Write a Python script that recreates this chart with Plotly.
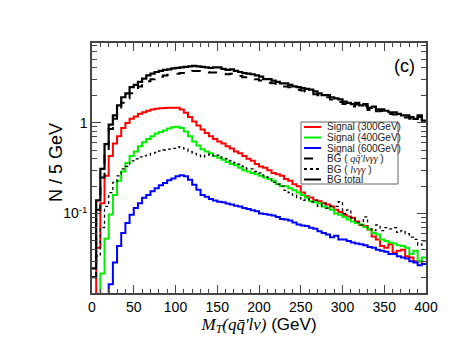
import numpy as np
import plotly.graph_objects as go

# bin edges, 5 GeV bins from 0 to 400
edges = np.arange(0, 405, 5)

sig300 = [0.001, 0.042, 0.13, 0.26, 0.43, 0.59, 0.71, 0.87, 0.99, 1.1,
          1.17, 1.25, 1.3, 1.35, 1.39, 1.42, 1.44, 1.45, 1.46, 1.46,
          1.46, 1.39, 1.28, 1.15, 1.03, 0.93, 0.84, 0.77, 0.71, 0.66,
          0.62, 0.59, 0.55, 0.52, 0.48, 0.46, 0.43, 0.40, 0.38, 0.35,
          0.33, 0.32, 0.30, 0.28, 0.27, 0.26, 0.24, 0.23, 0.21, 0.20,
          0.17, 0.155, 0.15, 0.14, 0.137, 0.13, 0.126, 0.12, 0.11, 0.104,
          0.097, 0.093, 0.09, 0.082, 0.075, 0.073, 0.067, 0.056, 0.052, 0.044,
          0.042, 0.046, 0.037, 0.039, 0.04, 0.034, 0.033, 0.03, 0.03, 0.028]

sig400 = [0.001, 0.001, 0.022, 0.053, 0.098, 0.16, 0.23, 0.29, 0.36, 0.43,
          0.48, 0.55, 0.61, 0.66, 0.71, 0.76, 0.79, 0.82, 0.86, 0.89,
          0.90, 0.87, 0.80, 0.71, 0.62, 0.56, 0.51, 0.48, 0.46, 0.43,
          0.41, 0.39, 0.37, 0.35, 0.34, 0.32, 0.30, 0.29, 0.28, 0.27,
          0.26, 0.25, 0.24, 0.23, 0.21, 0.20, 0.20, 0.19, 0.18, 0.17,
          0.16, 0.15, 0.137, 0.133, 0.13, 0.12, 0.115, 0.11, 0.10, 0.097,
          0.092, 0.086, 0.082, 0.079, 0.076, 0.071, 0.067, 0.061, 0.059, 0.052,
          0.05, 0.048, 0.047, 0.045, 0.044, 0.042, 0.036, 0.039, 0.03, 0.033]

sig600 = [0.001, 0.001, 0.001, 0.001, 0.0167, 0.029, 0.044, 0.061, 0.079, 0.097,
          0.115, 0.13, 0.149, 0.16, 0.176, 0.19, 0.205, 0.217, 0.232, 0.243,
          0.257, 0.264, 0.257, 0.236, 0.208, 0.183, 0.16, 0.153, 0.145, 0.139,
          0.135, 0.133, 0.129, 0.126, 0.122, 0.12, 0.115, 0.112, 0.109, 0.106,
          0.10, 0.099, 0.097, 0.095, 0.092, 0.087, 0.086, 0.084, 0.08, 0.076,
          0.074, 0.073, 0.07, 0.068, 0.064, 0.061, 0.059, 0.055, 0.057, 0.052,
          0.052, 0.05, 0.048, 0.047, 0.046, 0.045, 0.043, 0.042, 0.040, 0.039,
          0.038, 0.036, 0.036, 0.034, 0.033, 0.032, 0.030, 0.029, 0.027, 0.028]

bg_qq = [0.02, 0.11, 0.25, 0.5, 0.85, 1.1, 1.35, 1.65, 1.85, 2.1,
         2.3, 2.5, 2.7, 2.85, 3.0, 3.1, 3.2, 3.3, 3.35, 3.4,
         3.45, 3.5, 3.6, 3.65, 3.7, 3.7, 3.7, 3.6, 3.55, 3.55,
         3.55, 3.45, 3.4, 3.45, 3.3, 3.25, 3.15, 3.15, 3.1, 3.0,
         2.9, 2.75, 2.75, 2.7, 2.6, 2.5, 2.5, 2.45, 2.35, 2.3,
         2.25, 2.2, 2.15, 2.05, 2.0, 1.9, 1.9, 1.8, 1.75, 1.68,
         1.6, 1.55, 1.5, 1.58, 1.48, 1.52, 1.38, 1.44, 1.33, 1.34,
         1.28, 1.24, 1.23, 1.19, 1.14, 1.14, 1.1, 1.05, 1.15, 1.0]

bg_lv = [0.02, 0.034, 0.07, 0.12, 0.17, 0.22, 0.26, 0.31, 0.33, 0.38,
         0.40, 0.42, 0.43, 0.44, 0.46, 0.47, 0.49, 0.50, 0.51, 0.52,
         0.54, 0.53, 0.51, 0.48, 0.46, 0.44, 0.42, 0.44, 0.45, 0.43,
         0.44, 0.41, 0.40, 0.38, 0.36, 0.35, 0.33, 0.31, 0.31, 0.29,
         0.28, 0.26, 0.25, 0.22, 0.21, 0.20, 0.18, 0.17, 0.16, 0.15,
         0.14, 0.145, 0.135, 0.14, 0.12, 0.13, 0.115, 0.12, 0.12, 0.135,
         0.10, 0.11, 0.09, 0.08, 0.075, 0.092, 0.068, 0.065, 0.075, 0.065,
         0.07, 0.068, 0.07, 0.062, 0.065, 0.06, 0.055, 0.052, 0.045, 0.05]

bg_total = [0.025, 0.14, 0.31, 0.58, 0.95, 1.2, 1.55, 1.9, 2.1, 2.45,
            2.6, 2.8, 3.05, 3.3, 3.45, 3.6, 3.7, 3.8, 3.85, 3.95,
            4.0, 4.05, 4.1, 4.15, 4.2, 4.15, 4.1, 4.05, 4.0, 4.05,
            4.05, 3.9, 3.8, 3.85, 3.7, 3.6, 3.5, 3.45, 3.4, 3.3,
            3.2, 3.0, 3.0, 2.9, 2.8, 2.7, 2.7, 2.6, 2.5, 2.45,
            2.4, 2.35, 2.3, 2.2, 2.1, 2.0, 2.0, 1.9, 1.85, 1.8,
            1.7, 1.65, 1.6, 1.65, 1.55, 1.6, 1.45, 1.5, 1.4, 1.4,
            1.35, 1.3, 1.3, 1.25, 1.2, 1.2, 1.15, 1.1, 1.2, 1.05]

FONT = "Liberation Sans"

# page has an 8px body margin, so everything is laid out in page pixels minus OFF
OFF = 8
W, H = 463 - OFF, 360 - OFF
L, R, T, B = 92 - OFF, 426 - OFF, 43 - OFF, 293 - OFF


def px(x):
    return (x - OFF - L) / (R - L)


def py(y):
    return (B - (y - OFF)) / (B - T)


def step(vals):
    return list(edges), list(vals) + [vals[-1]]


series = [
    ("Signal (300GeV)", sig300, dict(color="#ff0000", width=2)),
    ("Signal (400GeV)", sig400, dict(color="#00ee00", width=2)),
    ("Signal (600GeV)", sig600, dict(color="#0000ff", width=2)),
    ("BG qq", bg_qq, dict(color="black", width=2, dash="dash")),
    ("BG lv", bg_lv, dict(color="black", width=1.3, dash="dot")),
    ("BG total", bg_total, dict(color="black", width=2.2)),
]

fig = go.Figure()
for name, vals, ln in series:
    xs, ys = step(vals)
    fig.add_trace(go.Scatter(x=xs, y=ys, mode="lines", line=dict(shape="hv", **ln),
                             name=name, showlegend=False))

minor_y = [m * 10.0 ** e for e in (-2, -1, 0) for m in range(2, 10)]

fig.update_layout(
    width=W, height=H,
    margin=dict(l=L, r=W - R, t=T, b=H - B),
    paper_bgcolor="white", plot_bgcolor="white",
    font=dict(family=FONT, size=14, color="black"),
)
fig.update_xaxes(
    range=[0, 400], tickvals=list(range(0, 401, 50)), ticks="inside", ticklen=8,
    tickcolor="#444", showline=True, linecolor="#444", linewidth=1.5, mirror="ticks",
    showgrid=False, zeroline=False, automargin=False,
    minor=dict(dtick=10, ticks="inside", ticklen=4, tickcolor="#444", showgrid=False),
    title=dict(text="<span style='font-family:Liberation Serif'><i>M</i><sub><i>T</i></sub>"
                    "<i>(qq̄'lν)</i></span> (GeV)", font=dict(size=17), standoff=3),
)
fig.update_yaxes(
    type="log", range=[np.log10(0.0134), np.log10(7.5)],
    tickvals=[0.1, 1], ticktext=["10<sup>-1</sup>", "1"],
    ticks="inside", ticklen=9, tickcolor="#444",
    showline=True, linecolor="#444", linewidth=1.5, mirror="ticks",
    showgrid=False, zeroline=False, automargin=False,
    minor=dict(tickvals=minor_y, ticks="inside", ticklen=5, tickcolor="#444", showgrid=False),
)

# y title placed by hand (sits closer to the axis than plotly's standoff allows)
fig.add_annotation(x=px(56), y=py(163), xref="paper", yref="paper", text="N / 5 GeV",
                   textangle=-90, xanchor="center", yanchor="middle", showarrow=False,
                   font=dict(size=18))

# (c) label
fig.add_annotation(x=px(404), y=py(66), xref="paper", yref="paper", text="(c)",
                   xanchor="center", yanchor="middle", showarrow=False, font=dict(size=18))

# legend box drawn by hand
fig.add_shape(type="rect", xref="paper", yref="paper",
              x0=px(301), x1=px(398), y0=py(184), y1=py(122),
              line=dict(color="#666", width=1), fillcolor="white", layer="above")
labels = ["Signal (300GeV)", "Signal (400GeV)", "Signal (600GeV)",
          "BG ( <span style='font-family:Liberation Serif'><i>qq̄'lνγγ</i></span> )",
          "BG ( <span style='font-family:Liberation Serif'><i>lνγγ</i></span> )",
          "BG total"]
rows = [127, 137.5, 148, 158.5, 169, 179.5]
for (name, vals, ln), lab, ry in zip(series, labels, rows):
    fig.add_shape(type="line", xref="paper", yref="paper",
                  x0=px(304), x1=px(321), y0=py(ry), y1=py(ry),
                  line=dict(color=ln["color"], width=2, dash=ln.get("dash", "solid")),
                  layer="above")
    fig.add_annotation(x=px(325), y=py(ry), xref="paper", yref="paper", text=lab,
                       xanchor="left", yanchor="middle", showarrow=False,
                       font=dict(size=10, color="#222"))

fig.write_html("out.html")
